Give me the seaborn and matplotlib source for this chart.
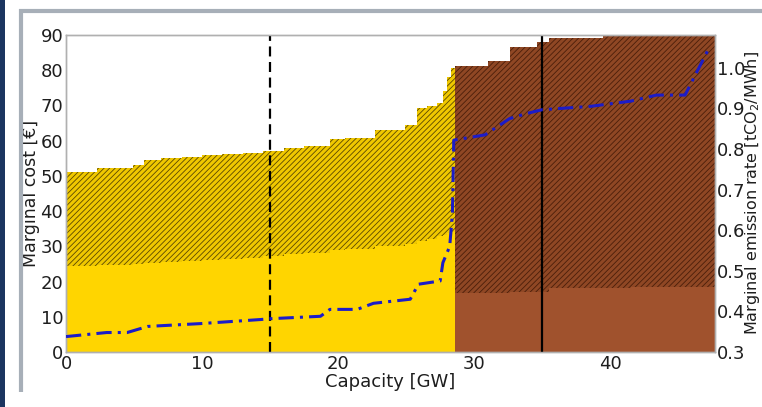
import numpy as np
import pandas as pd
import matplotlib
matplotlib.use("Agg")
import matplotlib.pyplot as plt
from matplotlib.patches import Rectangle
from matplotlib.lines import Line2D
import seaborn as sns

# ---- data ----
# gas plants (yellow): step edges [GW], fuel cost and total cost [EUR]
gas_edges = [0, 2.3, 4.9, 5.7, 7.0, 8.5, 10.0, 11.5, 13.0, 14.5, 16.0, 17.5,
             19.4, 20.5, 22.7, 24.9, 25.8, 26.5, 27.3, 27.7, 28.0, 28.3, 28.6]
gas_total = [51.1, 52.2, 53.1, 54.5, 55.0, 55.4, 55.8, 56.2, 56.6, 57.2, 57.8,
             58.5, 60.4, 60.8, 63.0, 64.5, 69.3, 69.8, 70.8, 74.0, 78.0, 80.5]
gas_fuel = [24.3, 24.6, 24.9, 25.2, 25.5, 25.8, 26.1, 26.4, 26.8, 27.3, 27.8,
            28.2, 29.0, 29.3, 30.0, 30.8, 31.5, 32.0, 32.8, 33.3, 33.8, 34.2]

# coal plants (brown)
coal_edges = [28.6, 31.0, 32.6, 34.6, 35.5, 39.5, 41.5, 47.7]
coal_total = [81.2, 82.6, 86.6, 88.0, 89.1, 89.6, 89.9]
coal_fuel = [16.8, 16.8, 16.9, 17.0, 18.2, 18.3, 18.5]

# marginal emission rate [tCO2/MWh]
em_x = [0, 3.0, 4.5, 6.0, 9.9, 14.3, 15.0, 18.7, 19.4, 21.4, 22.6, 25.3, 25.9,
        27.5, 27.7, 28.2, 28.4, 28.5, 30.8, 32.6, 33.9, 35.0, 38.5, 41.5, 43.4,
        45.5, 47.2]
em_y = [0.338, 0.348, 0.348, 0.363, 0.370, 0.380, 0.382, 0.388, 0.405, 0.405,
        0.420, 0.430, 0.467, 0.475, 0.520, 0.560, 0.640, 0.822, 0.835, 0.875,
        0.888, 0.897, 0.905, 0.918, 0.933, 0.933, 1.045]

vline_dashed = 15.0
vline_solid = 35.0

x_ticks = [0, 10, 20, 30, 40]
y_ticks = [0, 10, 20, 30, 40, 50, 60, 70, 80, 90]
y2_ticks = [0.3, 0.4, 0.5, 0.6, 0.7, 0.8, 0.9, 1.0]

# ---- style ----
sns.set_theme(style="white")
plt.rcParams['font.family'] = ['DejaVu Sans']
plt.rcParams['hatch.linewidth'] = 0.6
FS = 13
TXT = '#1e1e1e'

W, H = 762, 407
fig = plt.figure(figsize=(W / 100, H / 100), dpi=100)

# slide-frame decorations
fig.patches.append(Rectangle((0, 0), 5 / W, 1, transform=fig.transFigure,
                             facecolor='#1b3560', edgecolor='none', zorder=0))
fig.lines.append(Line2D([19 / W, 1], [1 - 10.5 / H, 1 - 10.5 / H],
                        transform=fig.transFigure, color='#a7afb8', lw=3,
                        solid_capstyle='butt'))
fig.lines.append(Line2D([20.5 / W, 20.5 / W], [1 - 9 / H, 1 - 392 / H],
                        transform=fig.transFigure, color='#a7afb8', lw=3,
                        solid_capstyle='butt'))

ax = fig.add_axes([66 / W, 1 - 352 / H, (715 - 66) / W, (352 - 35) / H])

GOLD = '#FFD500'
SIENNA = '#A0522D'

def steps(edges, vals):
    return np.array(edges), np.array(list(vals) + [vals[-1]])

ge, gt = steps(gas_edges, gas_total)
_, gf = steps(gas_edges, gas_fuel)
ce, ct = steps(coal_edges, coal_total)
_, cf = steps(coal_edges, coal_fuel)

ax.fill_between(ge, 0, gf, step='post', facecolor=GOLD, edgecolor='none', lw=0)
ax.fill_between(ge, gf, gt, step='post', facecolor='#F0C800', edgecolor='#5a4800',
                hatch='//////', lw=0)
ax.fill_between(ce, 0, cf, step='post', facecolor=SIENNA, edgecolor='none', lw=0)
ax.fill_between(ce, cf, ct, step='post', facecolor='#8f4724', edgecolor='#4a1e0a',
                hatch='//////', lw=0)

ax.axvline(vline_dashed, color='black', lw=1.6, ls=(0, (4.5, 2.5)), zorder=5)
ax.axvline(vline_solid, color='black', lw=1.6, zorder=5)

ax.set_xlim(0, 47.7)
ax.set_ylim(0, 90)
ax.set_xticks(x_ticks)
ax.set_yticks(y_ticks)
ax.tick_params(labelsize=FS, colors=TXT, pad=2, length=0)
ax.set_xlabel('Capacity [GW]', fontsize=FS, color=TXT, labelpad=0)
ax.set_ylabel('Marginal cost [€]', fontsize=FS - 0.5, color=TXT, labelpad=0)
ax.grid(False)

ax2 = ax.twinx()
em = pd.DataFrame({'cap': em_x, 'rate': em_y})
sns.lineplot(data=em, x='cap', y='rate', ax=ax2, color='#1c1cc8', lw=2.2,
             linestyle=(0, (5, 2, 1, 2)), zorder=6)
ax2.set_ylim(0.3, 1.081)
ax2.set_yticks(y2_ticks)
ax2.set_yticklabels([f'{v:.1f}' for v in y2_ticks])
ax2.tick_params(labelsize=FS, colors=TXT, pad=1.5, length=0)
ax2.set_xlabel('')
ax2.set_ylabel('Marginal emission rate [tCO$_2$/MWh]', fontsize=11.5,
               color=TXT)
ax2.yaxis.set_label_coords((743 - 66) / (715 - 66), 0.5)
ax2.grid(False)

for a in (ax, ax2):
    for s in a.spines.values():
        s.set_color('#b0b0b0')
        s.set_linewidth(1.0)

fig.savefig('out.png', dpi=100, facecolor='white')
